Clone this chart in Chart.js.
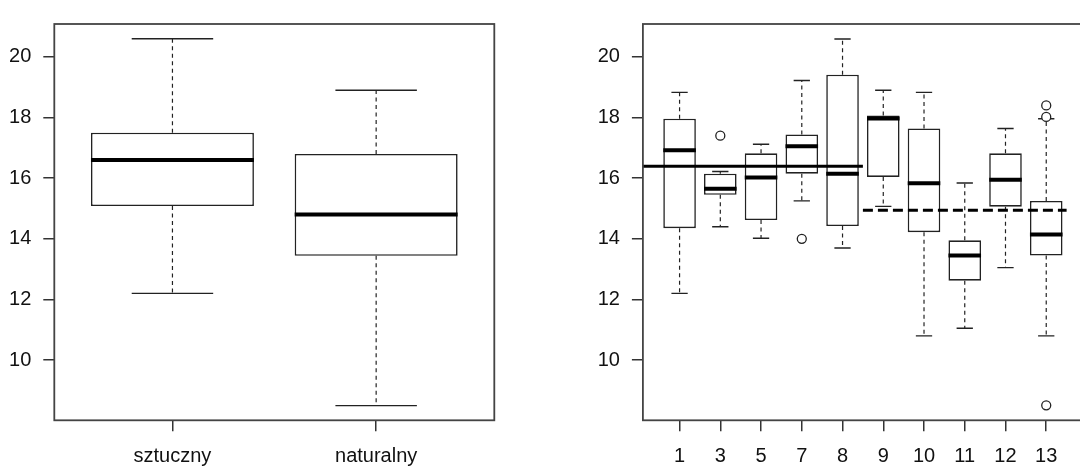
<!DOCTYPE html>
<html>
<head>
<meta charset="utf-8">
<script src="https://cdn.jsdelivr.net/npm/chart.js@4.4.0/dist/chart.umd.min.js"></script>
<style>
  html, body { margin: 0; padding: 0; background: #fff; overflow: hidden; }
  .panel { position: absolute; top: 0; height: 474px; }
  #leftPanel { left: 0; width: 540px; }
  #rightPanel { left: 540px; width: 560px; }
</style>
</head>
<body>
<div class="panel" id="leftPanel"><canvas id="leftChart" width="540" height="474"></canvas></div>
<div class="panel" id="rightPanel"><canvas id="rightChart" width="560" height="474"></canvas></div>
<script>
// Left panel: by type
const typeLabels = ['sztuczny', 'naturalny'];
const typeLower  = [12.2, 8.5];
const typeQ1     = [15.08, 13.44];
const typeMedian = [16.6, 14.8];
const typeQ3     = [17.5, 16.8];
const typeUpper  = [20.6, 18.9];
const typeMean   = [16.39, 14.94];

// Right panel: by group
const groupLabels   = ['1', '3', '5', '7', '8', '9', '10', '11', '12', '13'];
const groupType     = [0, 0, 0, 0, 0, 1, 1, 1, 1, 1];
const groupLower    = [12.2, 14.4, 14.02, 15.25, 13.7, 15.07, 10.8, 11.05, 13.05, 10.8];
const groupQ1       = [14.35, 15.45, 14.62, 16.15, 14.42, 16.04, 14.22, 12.62, 15.06, 13.45];
const groupMedian   = [16.92, 15.65, 16.02, 17.05, 16.15, 17.97, 15.83, 13.45, 15.95, 14.14];
const groupQ3       = [17.96, 16.15, 16.82, 17.44, 19.41, 18.07, 17.64, 13.95, 16.82, 15.25];
const groupUpper    = [18.83, 16.22, 17.12, 19.22, 20.59, 18.9, 18.83, 15.84, 17.64, 17.96];
const groupOutliers = [[], [17.4], [], [14.0], [], [], [], [], [], [18.4, 18.02, 8.51]];

const yTicks = [10, 12, 14, 16, 18, 20];

Chart.defaults.font.family = '"Liberation Sans", Arial, Helvetica, sans-serif';
Chart.defaults.font.size = 20;
Chart.defaults.color = '#111';

const BOX_HALF = 0.4;   // box is 0.8 of the group spacing
const CAP_HALF = 0.2;

// frame around the plotting region, like R's box()
const framePlugin = {
  id: 'frame',
  afterDraw(chart) {
    const a = chart.chartArea;
    const ctx = chart.ctx;
    ctx.save();
    ctx.strokeStyle = '#444';
    ctx.lineWidth = 1.8;
    ctx.strokeRect(a.left, a.top, a.right - a.left, a.bottom - a.top);
    ctx.restore();
  }
};

function boxDatasets(s) {
  const boxes = [], whiskers = [], caps = [], medians = [], points = [];
  s.median.forEach((m, i) => {
    const x = i + 1;
    boxes.push({ x: x, y: [s.q1[i], s.q3[i]] });
    whiskers.push({ x: x, y: s.q3[i] }, { x: x, y: s.upper[i] }, { x: x, y: null },
                  { x: x, y: s.q1[i] }, { x: x, y: s.lower[i] }, { x: x, y: null });
    caps.push({ x: x - CAP_HALF, y: s.upper[i] }, { x: x + CAP_HALF, y: s.upper[i] }, { x: x, y: null },
              { x: x - CAP_HALF, y: s.lower[i] }, { x: x + CAP_HALF, y: s.lower[i] }, { x: x, y: null });
    medians.push({ x: x - BOX_HALF, y: m }, { x: x + BOX_HALF, y: m }, { x: x, y: null });
    (s.outliers ? s.outliers[i] : []).forEach(v => points.push({ x: x, y: v }));
  });

  const line = { type: 'line', pointRadius: 0, spanGaps: false, fill: false, tension: 0 };
  return [
    { type: 'bar', data: boxes, backgroundColor: '#fff', borderColor: '#222', borderWidth: 1.6,
      borderSkipped: false, barPercentage: 2 * BOX_HALF, categoryPercentage: 1, order: 5 },
    Object.assign({}, line, { data: whiskers, borderColor: '#222', borderWidth: 1.2, borderDash: [4, 3.5], order: 4 }),
    Object.assign({}, line, { data: caps, borderColor: '#222', borderWidth: 1.4, order: 3 }),
    Object.assign({}, line, { data: medians, borderColor: '#000', borderWidth: 4, order: 2 }),
    { type: 'scatter', data: points, pointStyle: 'circle', pointRadius: 4.5, borderWidth: 1.3,
      borderColor: '#222', backgroundColor: '#fff', order: 0 }
  ];
}

function makeChart(id, labels, datasets, opt) {
  const tickGrid = { display: true, drawOnChartArea: false, drawTicks: true, tickLength: 11,
                     color: '#333', lineWidth: 1.5, offset: false };
  return new Chart(document.getElementById(id), {
    type: 'bar',
    data: { datasets: datasets },
    options: {
      responsive: false,
      animation: false,
      devicePixelRatio: 1,
      layout: { padding: { top: 7.3, right: opt.padRight, left: 0, bottom: 0 } },
      plugins: { legend: { display: false }, tooltip: { enabled: false } },
      scales: {
        x: {
          type: 'linear', min: opt.xRange[0], max: opt.xRange[1], offset: false,
          afterBuildTicks: s => { s.ticks = labels.map((_, i) => ({ value: i + 1 })); },
          afterFit: s => { s.height = 53.7; },
          ticks: { autoSkip: false, maxRotation: 0, padding: 13.5, callback: (v, i) => labels[i] },
          grid: tickGrid,
          border: { display: false }
        },
        y: {
          min: 8.016, max: 21.084,
          afterBuildTicks: s => { s.ticks = yTicks.map(v => ({ value: v })); },
          afterFit: s => { s.width = opt.yAxisWidth; },
          ticks: { padding: 12, callback: v => v },
          grid: tickGrid,
          border: { display: false }
        }
      }
    },
    plugins: [framePlugin]
  });
}

// left: sztuczny vs naturalny
makeChart('leftChart', typeLabels,
  boxDatasets({ lower: typeLower, q1: typeQ1, median: typeMedian, q3: typeQ3, upper: typeUpper }),
  { xRange: [0.42, 2.58], yAxisWidth: 54.3, padRight: 45.7 });

// right: per group, with the type means drawn across their groups
const rightSets = boxDatasets({ lower: groupLower, q1: groupQ1, median: groupMedian, q3: groupQ3,
                                upper: groupUpper, outliers: groupOutliers });
const rightRange = [0.1, 10.9];
typeMean.forEach((mean, t) => {
  const pos = groupType.map((g, i) => g === t ? i + 1 : null).filter(v => v !== null);
  const start = t === 0 ? rightRange[0] : pos[0] - 0.5;
  const end = pos[pos.length - 1] + 0.5;
  rightSets.push({
    type: 'line', data: [{ x: start, y: mean }, { x: end, y: mean }],
    borderColor: '#000', borderWidth: 3, borderDash: t === 0 ? [] : [10, 5],
    pointRadius: 0, fill: false, order: 1
  });
});
makeChart('rightChart', groupLabels, rightSets,
  { xRange: rightRange, yAxisWidth: 102.9, padRight: 17.1 });
</script>
</body>
</html>
